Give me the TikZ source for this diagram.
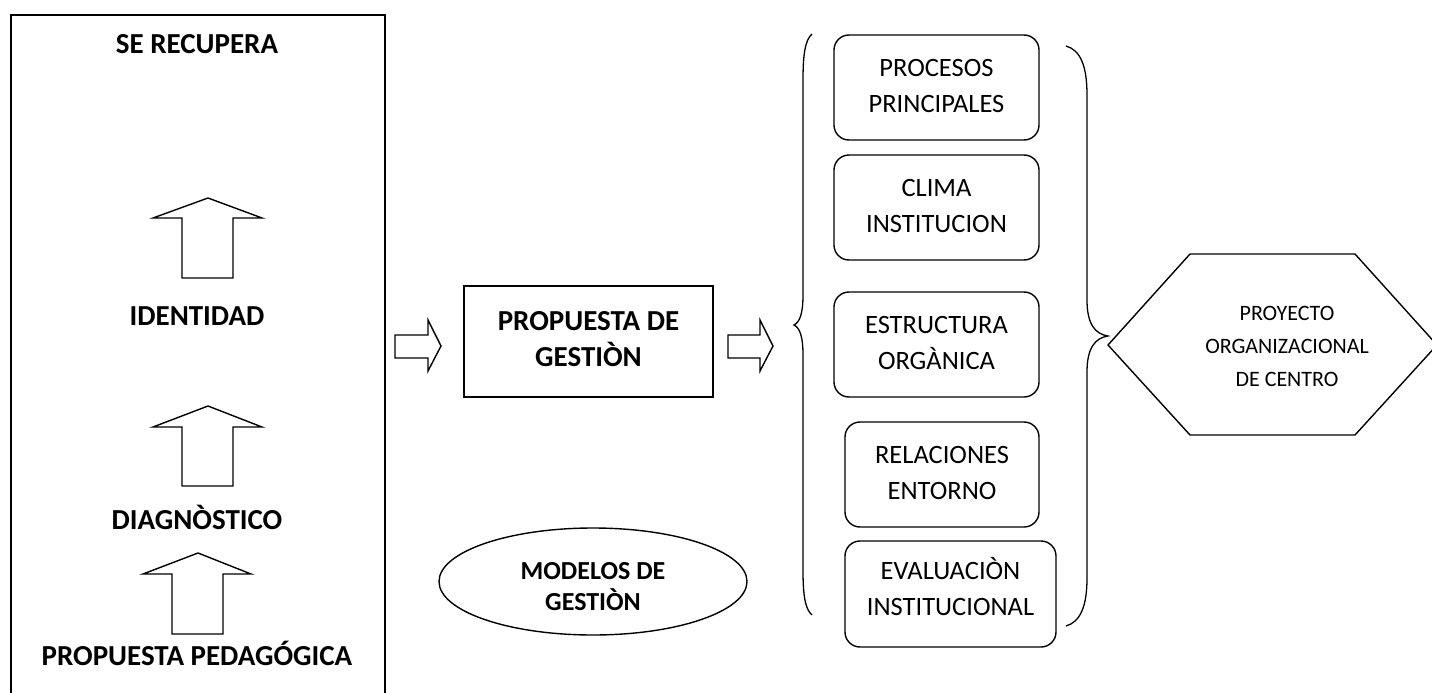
\documentclass[tikz,border=0pt]{standalone}
\usepackage{fontspec}
\setmainfont{Carlito}
\usetikzlibrary{shapes.geometric}
\begin{document}
\begin{tikzpicture}[x=1pt,y=-1pt,
  every node/.style={inner sep=0pt, outer sep=0pt},
  ln/.style={draw=black, line width=1.4pt, line join=miter},
  btxt/.style={font=\fontsize{29}{34}\selectfont\bfseries, align=center},
  etxt/.style={font=\fontsize{26}{30}\selectfont\bfseries, align=center},
  rtxt/.style={font=\fontsize{26.5}{36}\selectfont, align=center},
  htxt/.style={font=\fontsize{22}{33}\selectfont, align=center},
  rbox/.style={ln, rounded corners=15pt, minimum width=#1, minimum height=105pt, rtxt},
]
\useasboundingbox (0,0) rectangle (1432,693);

% left panel
\node[ln, line width=2pt, minimum width=374pt, minimum height=690pt] (left) at (198,360) {};
\node[btxt, anchor=base] (recup) at (197,54) {SE RECUPERA};
\node[btxt, anchor=base] (ident) at (197,325) {IDENTIDAD};
\node[btxt, anchor=base] (diag) at (197,529) {DIAGNÒSTICO};
\node[btxt, anchor=base] (pped) at (197,665) {PROPUESTA PEDAGÓGICA};

% up block arrows
\draw[ln] (182,278) -- (182,218) -- (153,218) -- (208,198) -- (262,218) -- (233,218) -- (233,278) -- cycle;
\draw[ln] (182,486) -- (182,427) -- (153,427) -- (208,406) -- (262,427) -- (233,427) -- (233,486) -- cycle;
\draw[ln] (172,634) -- (172,574) -- (143,574) -- (198,553) -- (251,574) -- (223,574) -- (223,634) -- cycle;

% right block arrows
\draw[ln] (395,335) -- (428,335) -- (428,320) -- (441,346) -- (428,371) -- (428,358) -- (395,358) -- cycle;
\draw[ln] (728,335) -- (760,335) -- (760,320) -- (773,346) -- (760,371) -- (760,358) -- (728,358) -- cycle;

% central box
\node[ln, minimum width=249pt, minimum height=111pt, btxt] (pg) at (588.5,341.5) {\strut PROPUESTA DE\\\strut GESTIÒN};

% ellipse
\node[ln, ellipse, minimum width=308pt, minimum height=107pt] (mg) at (593,581.5) {};
\node[etxt] (mgt) at (593,589) {\strut MODELOS DE\\\strut GESTIÒN};

% left brace
\draw[line width=1.3pt] (812,34) .. controls (805,40) and (803,55) .. (803,80) -- (803,295)
  .. controls (803,313) and (800,322) .. (794,325) .. controls (800,328) and (803,337) .. (803,355)
  -- (803,570) .. controls (803,595) and (805,609) .. (812,615);

% right brace
\draw[line width=1.3pt] (1066,46) .. controls (1080,50) and (1087,65) .. (1087,95) -- (1087,300)
  .. controls (1087,324) and (1095,334) .. (1108,336) .. controls (1095,338) and (1087,348) .. (1087,372)
  -- (1087,578) .. controls (1087,607) and (1080,622) .. (1066,626);

% rounded boxes
\node[rbox=205pt] (b1) at (936.5,87.5) {\strut PROCESOS\\\strut PRINCIPALES};
\node[rbox=205pt] (b2) at (936.5,207.5) {\strut CLIMA\\\strut INSTITUCION};
\node[rbox=205pt] (b3) at (936.5,344.5) {\strut ESTRUCTURA\\\strut ORGÀNICA};
\node[rbox=194pt] (b4) at (942,474.5) {\strut RELACIONES\\\strut ENTORNO};
\node[rbox=211pt, minimum height=106pt] (b5) at (950.5,594) {};
\node[rtxt] (b5t) at (950.5,590) {\strut EVALUACIÒN\\\strut INSTITUCIONAL};

% hexagon
\draw[ln] (1108,345) -- (1190,254) -- (1355,254) -- (1437,345) -- (1355,435) -- (1190,435) -- cycle;
\node[htxt] (proy) at (1287,347) {\strut PROYECTO\\\strut ORGANIZACIONAL\\\strut DE CENTRO};
\end{tikzpicture}
\end{document}
